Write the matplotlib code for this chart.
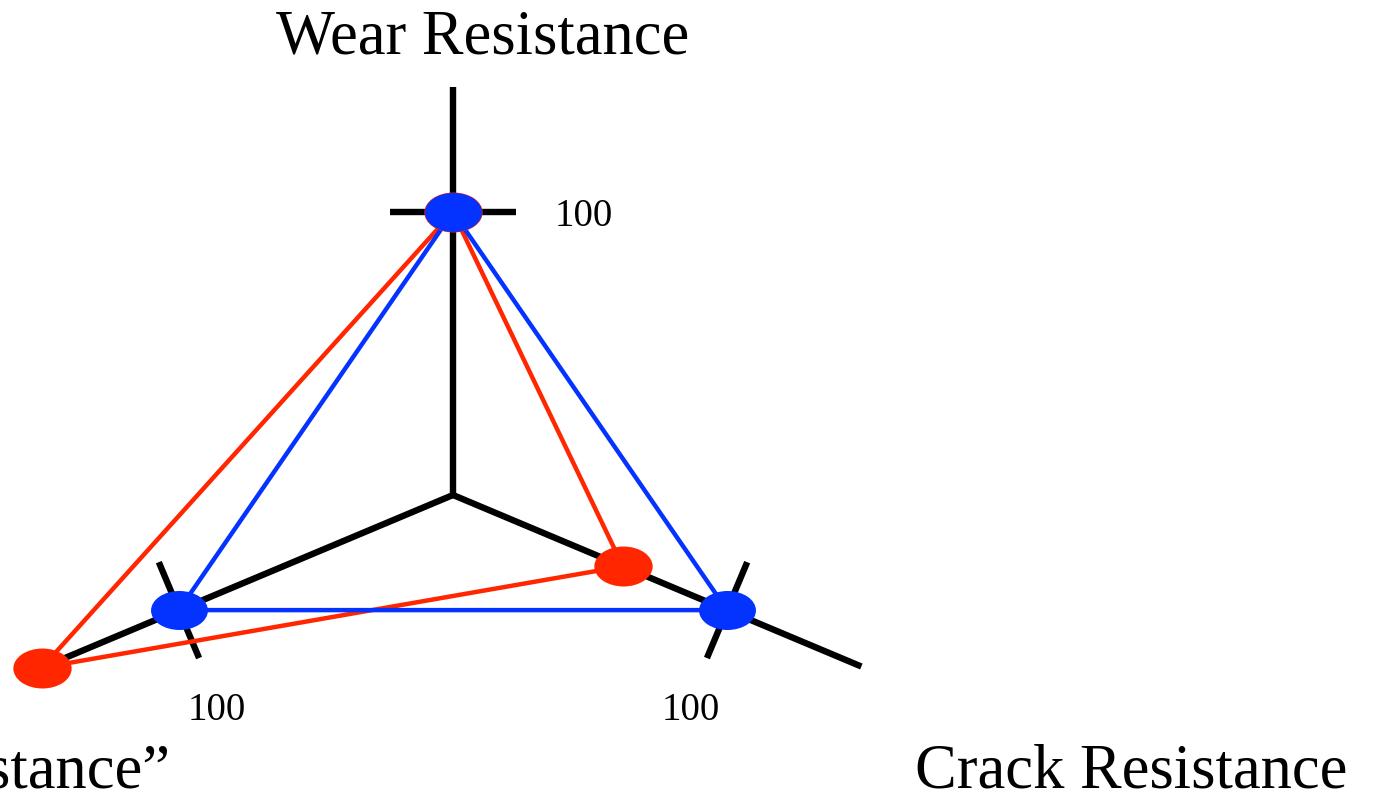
import numpy as np
import matplotlib
matplotlib.use("Agg")
import matplotlib.pyplot as plt
from matplotlib.path import Path

# ---- data ----
axis_names = ["Wear Resistance", "Crack Resistance", "\u201cImpact Resistance\u201d"]
axis_angles_deg = [90, -24, 204]
axis_lengths = [144, 149, 152]
tick_value = 100
tick_label = "100"
series_blue = [100, 100, 100]
series_red = [100, 62, 150]

BLUE = "#0433FF"
RED = "#FF2600"

W, H, DPI = 1376, 795, 100
fig = plt.figure(figsize=(W / DPI, H / DPI), dpi=DPI)
ax = fig.add_axes([0, 0, 1, 1])
ax.set_axis_off()

# pixel scale per unit (x and y differ slightly as in the reference)
sx, sy = 3.0, 2.83
cx, cy = 453, 795 - 495
ax.set_xlim(-cx / sx, (W - cx) / sx)
ax.set_ylim(-cy / sy, (H - cy) / sy)

ang = np.deg2rad(axis_angles_deg)
ux, uy = np.cos(ang), np.sin(ang)

def to_xy(vals):
    v = np.asarray(vals, dtype=float)
    return v * ux, v * uy

# axes spokes
for i in range(3):
    ax.plot([0, axis_lengths[i] * ux[i]], [0, axis_lengths[i] * uy[i]],
            color="black", lw=4.6, solid_capstyle="butt", zorder=1)

# ticks at 100 (perpendicular in display space)
half_len_px = [63, 52, 52]
tx, ty = to_xy([tick_value] * 3)
for i in range(3):
    dxp, dyp = ux[i] * sx, uy[i] * sy
    n = np.hypot(dxp, dyp)
    px, py = -dyp / n * half_len_px[i], dxp / n * half_len_px[i]
    ax.plot([tx[i] - px / sx, tx[i] + px / sx], [ty[i] - py / sy, ty[i] + py / sy],
            color="black", lw=4.6, solid_capstyle="butt", zorder=1)

# tick labels
offsets = [(131, -5), (-36, -100), (38, -100)]
for i in range(3):
    ax.annotate(tick_label, (tx[i], ty[i]), xytext=offsets[i], textcoords="offset pixels",
                ha="center", va="center", fontsize=28, family="Liberation Serif", zorder=5)

# ellipse marker
circ = Path.unit_circle()
ell = Path(circ.vertices * np.array([1.46, 1.0]), circ.codes)

rx, ry = to_xy(series_red)
bx, by = to_xy(series_blue)
ax.plot(np.append(rx, rx[0]), np.append(ry, ry[0]), color=RED, lw=3.2, zorder=2)
ax.plot(np.append(bx, bx[0]), np.append(by, by[0]), color=BLUE, lw=3.2, zorder=2.5)
ax.plot(rx, ry, ls="none", marker=ell, ms=42, mfc=RED, mew=0, zorder=3)
ax.plot(bx, by, ls="none", marker=ell, ms=41, mfc=BLUE, mew=0, zorder=4)

# axis titles
fkw = dict(fontsize=45, family="Liberation Serif", va="baseline")
fig.text(483 / W, 1 - 54 / H, axis_names[0], ha="center", **fkw)
fig.text(1131 / W, 1 - 788 / H, axis_names[1], ha="center", **fkw)
fig.text(170 / W, 1 - 788 / H, axis_names[2], ha="right", **fkw)

fig.savefig("out.png", dpi=DPI)
